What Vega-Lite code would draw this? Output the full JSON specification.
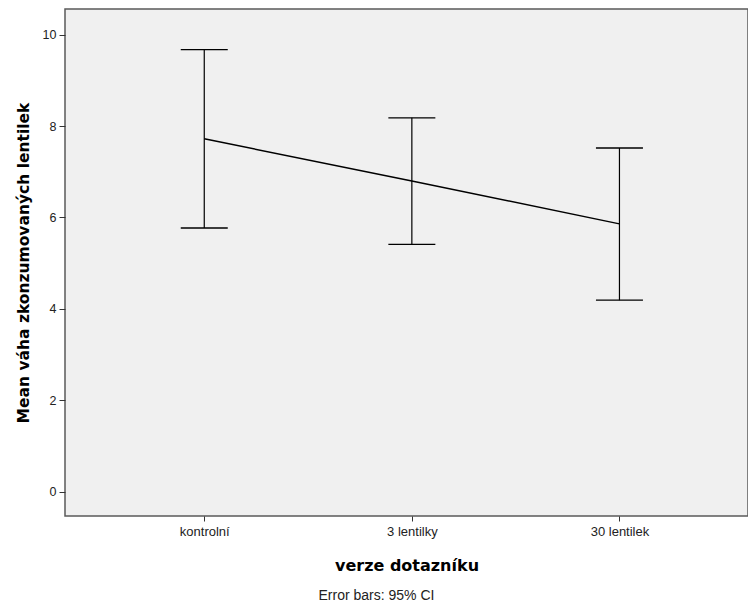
{
  "$schema": "https://vega.github.io/schema/vega-lite/v6.json",
  "autosize": {"type": "none"},
  "width": 683,
  "height": 507,
  "padding": {"left": 65, "top": 9, "right": 0, "bottom": 94},
  "background": "#ffffff",
  "config": {
    "font": "Liberation Sans",
    "view": {"fill": "#f0f0f0", "stroke": "#5a5a5a", "strokeWidth": 1.5}
  },
  "title": {
    "text": "Error bars: 95% CI",
    "orient": "bottom",
    "anchor": "middle",
    "dx": -30,
    "offset": 16,
    "font": "Liberation Sans",
    "fontSize": 14,
    "fontWeight": "normal",
    "color": "#222222"
  },
  "data": {
    "values": [
      {"verze": "kontrolní", "mean": 7.72, "lower": 5.77, "upper": 9.67},
      {"verze": "3 lentilky", "mean": 6.80, "lower": 5.41, "upper": 8.18},
      {"verze": "30 lentilek", "mean": 5.86, "lower": 4.19, "upper": 7.52}
    ]
  },
  "encoding": {
    "x": {
      "field": "verze",
      "type": "nominal",
      "sort": ["kontrolní", "3 lentilky", "30 lentilek"],
      "scale": {"type": "point", "padding": 0.645, "align": 0.52},
      "axis": {
        "title": "verze dotazníku",
        "titleFont": "DejaVu Sans",
        "titleFontSize": 16,
        "titleFontWeight": "bold",
        "titleColor": "#000000",
        "titlePadding": 19,
        "labelFont": "Liberation Sans",
        "labelFontSize": 13,
        "labelColor": "#222222",
        "labelAngle": 0,
        "labelPadding": 4,
        "tickColor": "#333333",
        "tickSize": 5,
        "domain": false,
        "grid": false
      }
    }
  },
  "layer": [
    {
      "mark": {"type": "rule", "color": "#000000", "strokeWidth": 1.2},
      "encoding": {
        "y": {
          "field": "lower",
          "type": "quantitative",
          "scale": {"domain": [-0.53, 10.56], "nice": false, "zero": false},
          "axis": {
            "title": "Mean váha zkonzumovaných lentilek",
            "titleFont": "DejaVu Sans",
            "titleFontSize": 15.5,
            "titleFontWeight": "bold",
            "titleColor": "#000000",
            "titlePadding": 11,
            "values": [0, 2, 4, 6, 8, 10],
            "labelFont": "Liberation Sans",
            "labelFontSize": 12.5,
            "labelColor": "#222222",
            "labelPadding": 3,
            "tickColor": "#333333",
            "tickSize": 6,
            "domain": false,
            "grid": false
          }
        },
        "y2": {"field": "upper"}
      }
    },
    {
      "mark": {"type": "tick", "color": "#000000", "thickness": 1.3, "size": 47, "opacity": 1},
      "encoding": {"y": {"field": "lower", "type": "quantitative"}}
    },
    {
      "mark": {"type": "tick", "color": "#000000", "thickness": 1.3, "size": 47, "opacity": 1},
      "encoding": {"y": {"field": "upper", "type": "quantitative"}}
    },
    {
      "mark": {"type": "line", "color": "#000000", "strokeWidth": 1.5},
      "encoding": {"y": {"field": "mean", "type": "quantitative"}}
    }
  ]
}
